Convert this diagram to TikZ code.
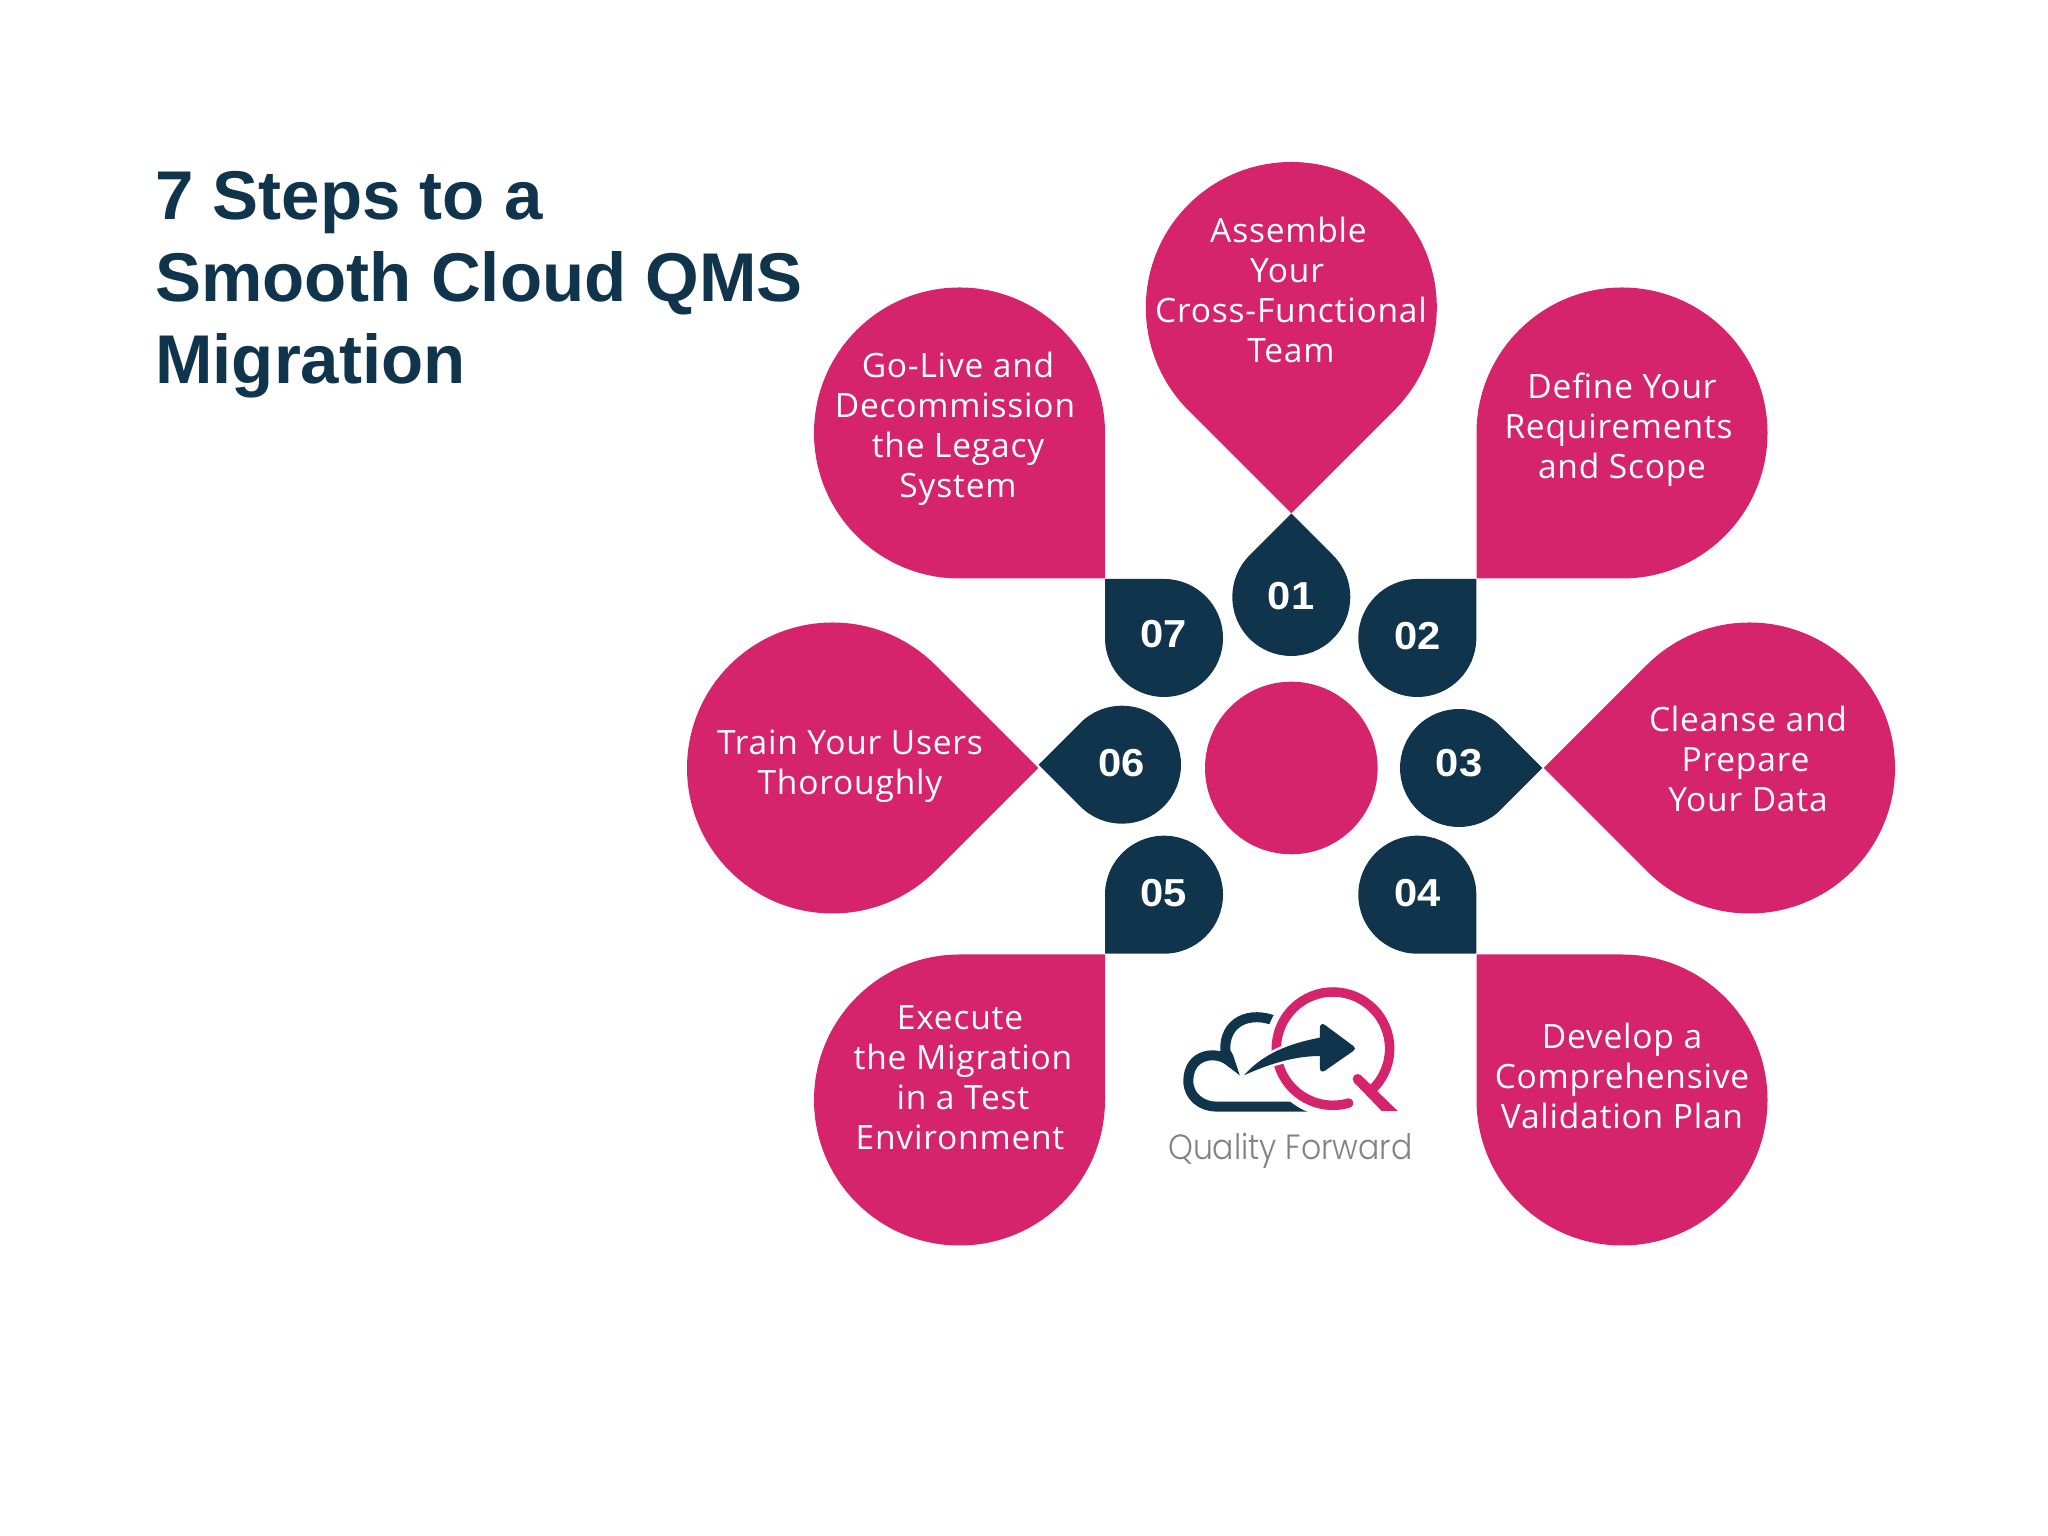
\documentclass[tikz,border=0pt]{standalone}
\usepackage{fontspec}
\setmainfont[LetterSpace=2.4]{Open Sans}
\newfontfamily\titlefont{Liberation Sans}
\newfontfamily\numfont[FakeStretch=1.07]{Liberation Sans}
\newfontfamily\logofont[FakeStretch=0.9]{Poppins Light}
\definecolor{qfpink}{HTML}{D6246C}
\definecolor{qfnavy}{HTML}{10344C}
\definecolor{qfgray}{HTML}{808285}
\tikzset{
  petal/.style={fill=qfpink},
  badge/.style={fill=qfnavy},
  steptext/.style={text=white,align=center,inner sep=0pt,font=\fontsize{33.5}{40}\selectfont},
  numtext/.style={text=white,inner sep=0pt,font=\numfont\bfseries\fontsize{39}{39}\selectfont},
}
% fill style, radius, centre x, centre y, direction of the tip
\newcommand{\dropshape}[5]{
  \path[#1,shift={(#3,#4)},rotate=#5] (45:#2) arc[start angle=45,end angle=315,radius=#2] -- ({#2*1.4142},0) -- cycle;
}

\begin{document}
\begin{tikzpicture}[x=1pt,y=1pt]
  \useasboundingbox (0,0) rectangle (2048,1536);

  \node[anchor=north west,inner sep=0pt,align=left,text=qfnavy,font=\titlefont\bfseries\fontsize{69}{82}\selectfont] (title) at (155,1364.5) {7 Steps to a\\Smooth Cloud QMS\\Migration};

  \dropshape{petal}{145.5}{1291.3}{1228.5}{-90}
  \dropshape{petal}{145.5}{1622}{1103}{225}
  \dropshape{petal}{145.5}{1749.5}{768}{180}
  \dropshape{petal}{145.5}{1622}{436}{135}
  \dropshape{petal}{145.5}{959.5}{436}{45}
  \dropshape{petal}{145.5}{832.5}{768}{0}
  \dropshape{petal}{145.5}{959.5}{1103}{-45}

  \dropshape{badge}{59}{1291.3}{939}{90}
  \dropshape{badge}{59}{1417.3}{898}{45}
  \dropshape{badge}{59}{1459}{768}{0}
  \dropshape{badge}{59}{1417.3}{641.3}{-45}
  \dropshape{badge}{59}{1164}{641.3}{225}
  \dropshape{badge}{59}{1122}{771.3}{180}
  \dropshape{badge}{59}{1164}{898}{135}

  \fill[qfpink] (1291.3,768) circle[radius=86.3];

  \node[steptext] (text01) at (1291,1246) {Assemble\kern5pt\\Your\kern8pt\\Cross-Functional\\Team};
  \node[steptext] (text02) at (1622,1106) {Define Your\\Requirements\kern7pt\\and Scope};
  \node[steptext] (text03) at (1748,777) {Cleanse and\\Prepare\kern5pt\\Your Data};
  \node[steptext] (text04) at (1622,460.5) {Develop a\\Comprehensive\\Validation Plan};
  \node[steptext] (text05) at (960,458) {Execute\\\hspace*{6pt}the Migration\\\hspace*{6pt}in a Test\\Environment};
  \node[steptext] (text06) at (850,770) {Train Your Users\\Thoroughly};
  \node[steptext] (text07) at (958,1107.5) {Go-Live and\\Decommission\kern6pt\\the Legacy\\System};

  \node[numtext] (num01) at (1291,940) {01};
  \node[numtext] (num02) at (1417.3,899.5) {02};
  \node[numtext] (num03) at (1459,772.7) {03};
  \node[numtext] (num04) at (1417.3,643) {04};
  \node[numtext] (num05) at (1163.3,643) {05};
  \node[numtext] (num06) at (1121.7,772.7) {06};
  \node[numtext] (num07) at (1163.3,902) {07};

  % logo, in pixels of a 3x crop
  \begin{scope}[shift={(1100,586)},x=0.3333pt,y=-0.3333pt]
    \draw[qfnavy,line width=10pt] (530,215) .. controls (450,180) and (370,215) .. (376,305)
      .. controls (385,320) and (388,325) .. (390,335)
      .. controls (350,300) and (265,310) .. (265,393)
      .. controls (265,440) and (305,470) .. (350,470) -- (640,470);
    \fill[white] (699,296) circle[radius=204];
    \draw[qfpink,line width=9.5pt] ([shift={(74:170)}]699,296) arc[start angle=74,end angle=408,radius=170];
    \fill[qfpink] ([shift={(74:170)}]699,296) circle[radius=14.5];
    \fill[qfpink] (762,397) -- (783,376) -- (893,483) -- (845,483) -- cycle;
    \fill[qfpink] (773,387) circle[radius=15];
    \path[fill=qfnavy,preaction={draw=white,line width=5pt}] (432,376)
      .. controls (490,310) and (570,280) .. (660,263) -- (660,232)
      .. controls (660,222) and (668,220) .. (675,225) -- (760,288)
      .. controls (767,293) and (767,298) .. (760,303) -- (675,362)
      .. controls (668,367) and (660,365) .. (660,355) -- (660,318)
      .. controls (580,318) and (500,345) .. (432,376) -- cycle;
    \node[inner sep=0pt,text=qfgray,font=\logofont\fontsize{35}{35}\selectfont] (logotext) at (571,603) {Quality Forward};
  \end{scope}
\end{tikzpicture}
\end{document}
